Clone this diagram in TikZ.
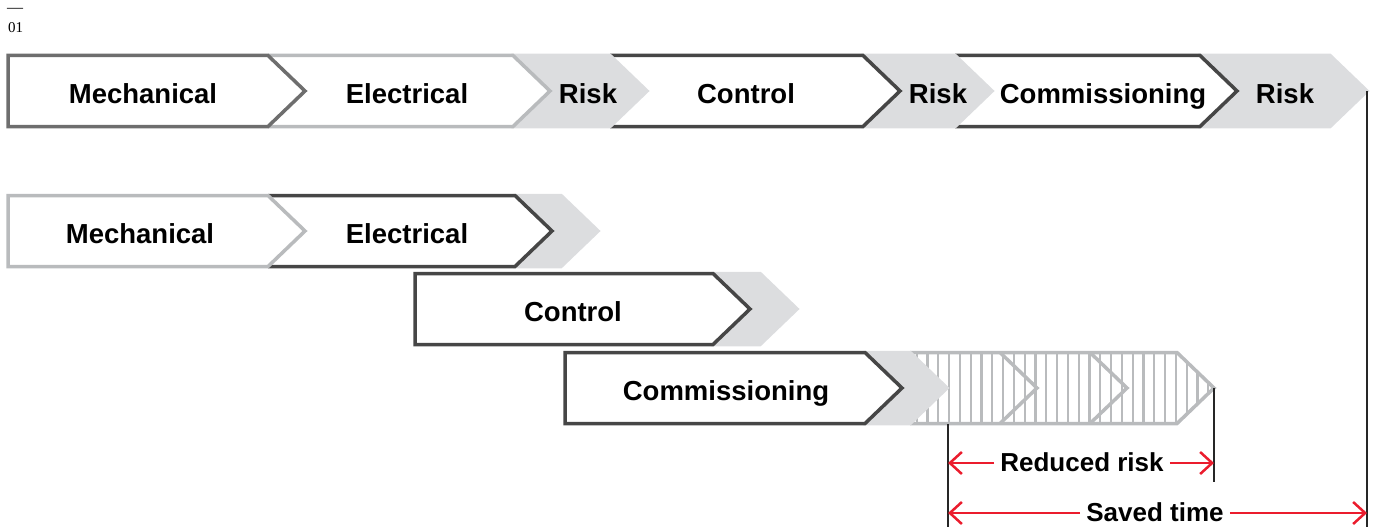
\documentclass[tikz,border=0pt]{standalone}
\usepackage{fontspec}
\setmainfont{Liberation Sans}
\newfontfamily\numfont{Liberation Serif}
\usetikzlibrary{arrows.meta}
\definecolor{mgray}{RGB}{110,110,110}
\definecolor{lgray}{RGB}{185,187,189}
\definecolor{dgray}{RGB}{70,70,70}
\definecolor{rfill}{RGB}{220,221,223}
\definecolor{abbred}{RGB}{235,28,45}
\newcommand\chevfill[4]{\path[#4] (#1,#3-35.5) -- (#2,#3-35.5) -- (#2+37,#3) -- (#2,#3+35.5) -- (#1,#3+35.5) -- cycle;}
\newcommand\chevopen[4]{\fill[white] (#1,#3-35.5) -- (#2,#3-35.5) -- (#2+37,#3) -- (#2,#3+35.5) -- (#1,#3+35.5) -- cycle;
  \draw[#4] (#1,#3-35.5) -- (#2,#3-35.5) -- (#2+37,#3) -- (#2,#3+35.5) -- (#1,#3+35.5);}
\newcommand\chevclosed[4]{\draw[#4,fill=white] (#1,#3-35.5) -- (#2,#3-35.5) -- (#2+37,#3) -- (#2,#3+35.5) -- (#1,#3+35.5) -- cycle;}
\tikzset{
  riskbox/.style={fill=rfill,draw=rfill,line width=3.5,line join=miter},
  bord/.style={line width=3.5,line join=miter},
  lbl/.style={font=\bfseries\fontsize{27.5}{32}\selectfont,anchor=base,inner sep=0pt},
  hatchln/.style={draw=lgray,line width=2.2},
  hatchout/.style={draw=lgray,line width=3.5,line join=miter},
  vline/.style={draw=black!85,line width=1.2},
  redarr/.style={draw=abbred,line width=2.5,-{Straight Barb[length=12,width=22,line width=2.5]}},
  dimlbl/.style={font=\bfseries\fontsize{26}{30}\selectfont,anchor=base,inner xsep=6pt,inner ysep=0pt},
}
\begin{document}
\begin{tikzpicture}[x=1pt,y=-1pt]
\useasboundingbox (0,0) rectangle (1375,527);
% header
\node[font=\numfont\fontsize{16}{18}\selectfont,anchor=base west,inner sep=0pt] (dash) at (7,13) {—};
\node[font=\numfont\fontsize{15}{18}\selectfont,anchor=base west,inner sep=0pt] (num) at (8,33) {01};
% ---------- row 1 (right to left) ----------
\chevfill{1200}{1330}{91}{riskbox}
\chevopen{955}{1200}{91}{bord,draw=dgray}
\chevfill{863}{955}{91}{riskbox}
\chevopen{610}{863}{91}{bord,draw=dgray}
\chevfill{513}{610}{91}{riskbox}
\chevopen{268}{513}{91}{bord,draw=lgray}
\chevclosed{8}{268}{91}{bord,draw=mgray}
\node[lbl] (a1) at (143,103) {Mechanical};
\node[lbl] (a2) at (407,103) {Electrical};
\node[lbl] (a3) at (588,103) {Risk};
\node[lbl] (a4) at (746,103) {Control};
\node[lbl] (a5) at (938,103) {Risk};
\node[lbl] (a6) at (1103,103) {Commissioning};
\node[lbl] (a7) at (1285,103) {Risk};
% ---------- row 2 ----------
\chevfill{515}{561}{231}{riskbox}
\chevopen{268}{515}{231}{bord,draw=dgray}
\chevclosed{8}{268}{231}{bord,draw=lgray}
\node[lbl] (b1) at (140,243) {Mechanical};
\node[lbl] (b2) at (407,243) {Electrical};
% ---------- row 3 ----------
\chevfill{713}{760}{309}{riskbox}
\chevclosed{415}{713}{309}{bord,draw=dgray}
\node[lbl] (c1) at (573,321) {Control};
% ---------- row 4 ----------
\begin{scope}
\clip (910,352.5) -- (1177,352.5) -- (1214,388) -- (1177,423.5) -- (910,423.5) -- cycle;
\foreach \k in {0,...,28} \draw[hatchln] ({916.6+\k*10.8},350) -- ({916.6+\k*10.8},426);
\end{scope}
\draw[hatchout] (910,352.5) -- (1177,352.5) -- (1214,388) -- (1177,423.5) -- (910,423.5);
\draw[hatchout] (1000,352.5) -- (1037,388) -- (1000,423.5);
\draw[hatchout] (1090,352.5) -- (1127,388) -- (1090,423.5);
\chevfill{865}{910}{388}{riskbox}
\chevclosed{565}{865}{388}{bord,draw=dgray}
\node[lbl] (d1) at (726,400) {Commissioning};
% ---------- dimension lines ----------
\coordinate (vtop1) at (1367,91);
\coordinate (vbot1) at (1367,527);
\coordinate (vtop2) at (948,424);
\coordinate (vbot2) at (948,527);
\coordinate (vtop3) at (1214,388);
\coordinate (vbot3) at (1214,482);
\draw[vline] (vtop1) -- (vbot1);
\draw[vline] (vtop2) -- (vbot2);
\draw[vline] (vtop3) -- (vbot3);
\coordinate (rL) at (948,463);
\coordinate (rR) at (1214,463);
\coordinate (sL) at (948,513);
\coordinate (sR) at (1367,513);
\node[dimlbl] (rtxt) at (1082,471) {Reduced risk};
\node[dimlbl] (stxt) at (1155,521) {Saved time};
\draw[redarr] (rtxt.west |- rL) -- (rL);
\draw[redarr] (rtxt.east |- rR) -- (rR);
\draw[redarr] (stxt.west |- sL) -- (sL);
\draw[redarr] (stxt.east |- sR) -- (sR);
\end{tikzpicture}
\end{document}
